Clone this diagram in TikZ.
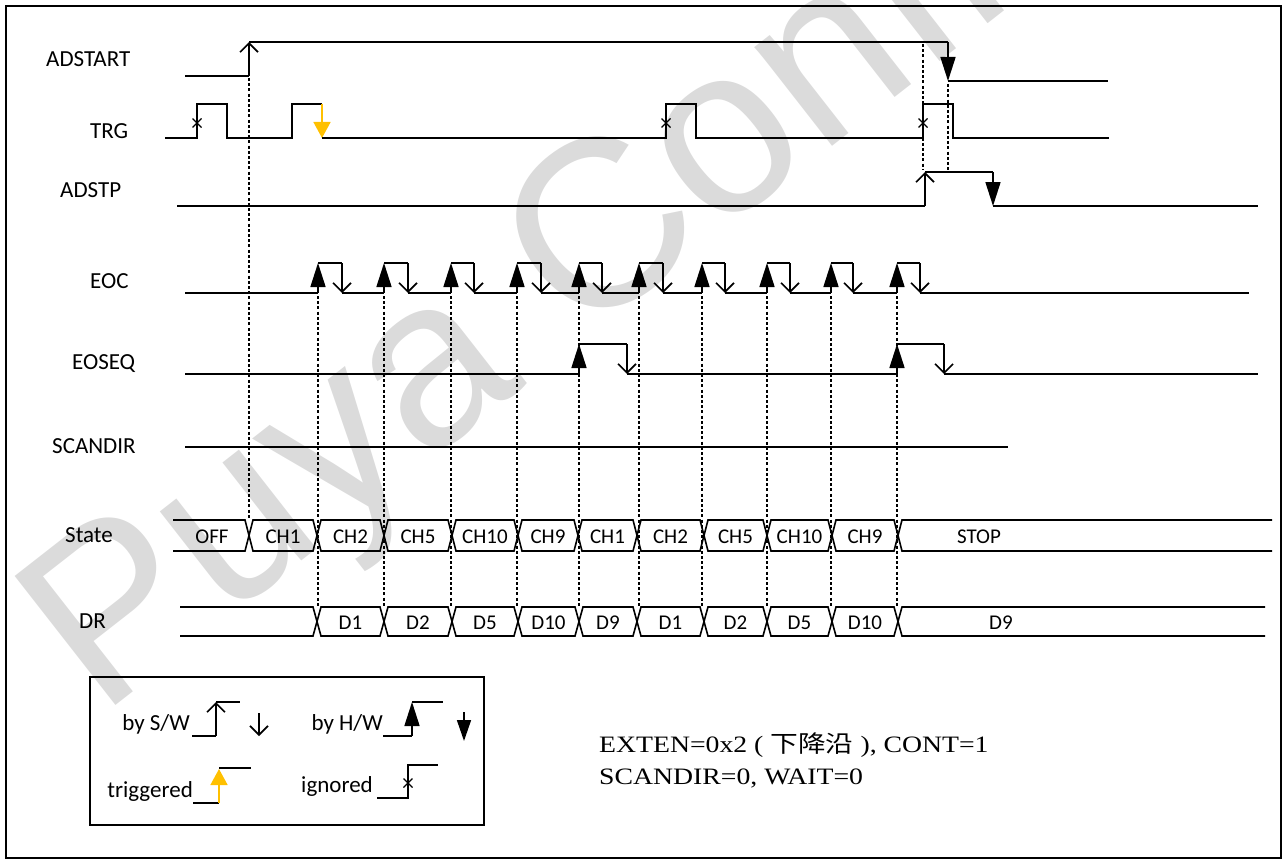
\documentclass[tikz,border=0pt]{standalone}
\usepackage{fontspec}
\setmainfont{Carlito}
\newfontfamily\serifcap{Liberation Serif}
\newfontfamily\cjkf{Noto Sans CJK SC}
\newfontfamily\wmfont{Liberation Sans}
\usetikzlibrary{arrows.meta}
\definecolor{trgy}{RGB}{255,192,0}
\newcommand\mymark[2]{\draw[xmk] (#1-4.5,#2-4.5)--(#1+4.5,#2+4.5) (#1-4.5,#2+4.5)--(#1+4.5,#2-4.5);}
\begin{document}
\begin{tikzpicture}[x=1pt,y=-1pt,
  sig/.style={line width=1.6pt, line join=miter},
  dsh/.style={line width=1.3pt, dash pattern=on 3pt off 2.2pt},
  hw/.style={-{Triangle[length=24pt,width=15pt]}},
  sw/.style={-{Straight Barb[length=9pt,width=18pt]}},
  ytip/.style={-{Triangle[length=16pt,width=17pt]}},
  lbl/.style={font=\fontsize{23}{26}\selectfont, inner sep=0pt},
  bus/.style={font=\fontsize{21}{24}\selectfont, inner sep=0pt},
  xmk/.style={line width=1.3pt}]
\useasboundingbox (0,0) rectangle (1288,864);
% watermark
\node[anchor=base west, rotate=38, inner sep=0pt, text=black!14,
  font=\wmfont\fontsize{238}{250}\selectfont] (wm) at (100,718) {Puya Confidential};
% frame
\draw[line width=1.3pt] (6,6) rectangle (1281,858);
% row labels
\node[lbl, anchor=west] (lADSTART) at (46,59) {ADSTART};
\node[lbl, anchor=west] (lTRG) at (90,131.5) {TRG};
\node[lbl, anchor=west] (lADSTP) at (60,190) {ADSTP};
\node[lbl, anchor=west] (lEOC) at (90,281) {EOC};
\node[lbl, anchor=west] (lEOSEQ) at (72,364) {EOSEQ};
\node[lbl, anchor=west] (lSCANDIR) at (52,446) {SCANDIR};
\node[lbl, anchor=west] (lState) at (65,535) {State};
\node[lbl, anchor=west] (lDR) at (79,621) {DR};
% dashed guides
\draw[dsh] (249,78) -- (249,518);
\draw[dsh] (923,44) -- (923,170);
\draw[dsh] (948,84) -- (948,170);
\foreach \r in {318,384,451,517,579,639,702,767,831,897}
  \draw[dsh] (\r,296) -- (\r,606);
% ADSTART
\draw[sig] (185,76) -- (249,76);
\draw[sig, sw] (249,76) -- (249,42);
\draw[sig] (249,42) -- (948,42);
\draw[sig, hw] (948,42) -- (948,81);
\draw[sig] (948,81) -- (1108,81);
% TRG
\draw[sig] (165,138) -- (197,138) -- (197,104) -- (227,104) -- (227,138) -- (292,138) -- (292,104) -- (322,104);
\draw[sig, trgy, ytip] (322,104) -- (322,138);
\draw[sig] (322,138) -- (666,138) -- (666,104) -- (696,104) -- (696,138) -- (923,138) -- (923,104) -- (953,104) -- (953,138) -- (1109,138);
\mymark{197}{123}
\mymark{666}{123}
\mymark{923}{123}
% ADSTP
\draw[sig] (177,206) -- (925,206);
\draw[sig, sw] (925,206) -- (925,172);
\draw[sig] (925,172) -- (993,172);
\draw[sig, hw] (993,172) -- (993,206);
\draw[sig] (993,206) -- (1258,206);
% EOC
\foreach \r/\f in {318/342,384/408,451/474,517/541,579/602,639/663,702/725,767/790,831/853,897/920}{
  \draw[sig, hw] (\r,293) -- (\r,263);
  \draw[sig] (\r,263) -- (\f,263);
  \draw[sig, sw] (\f,263) -- (\f,293);
}
\foreach \a/\b in {185/318,342/384,408/451,474/517,541/579,602/639,663/702,725/767,790/831,853/897,920/1249}
  \draw[sig] (\a,293) -- (\b,293);
% EOSEQ
\draw[sig] (185,374) -- (579,374);
\draw[sig, hw] (579,374) -- (579,344);
\draw[sig] (579,344) -- (627,344);
\draw[sig, sw] (627,344) -- (627,374);
\draw[sig] (627,374) -- (897,374);
\draw[sig, hw] (897,374) -- (897,344);
\draw[sig] (897,344) -- (944,344);
\draw[sig, sw] (944,344) -- (944,374);
\draw[sig] (944,374) -- (1258,374);
% SCANDIR
\draw[sig] (185,447) -- (1008,447);
% State bus
\draw[sig] (173,520) -- (245,520) -- (249,535.5) -- (245,551) -- (173,551);
\node[bus] (sOFF) at (212,537) {OFF};
\foreach \a/\b/\t in {249/317/CH1,317/384/CH2,384/452/CH5,452/518/CH10,518/578/CH9,578/637/CH1,637/704/CH2,704/767/CH5,767/832/CH10,832/898/CH9}{
  \draw[sig] (\a,535.5) -- (\a+4,520) -- (\b-4,520) -- (\b,535.5) -- (\b-4,551) -- (\a+4,551) -- cycle;
  \node[bus] (s\a) at ({(\a+\b)/2},537) {\t};
}
\draw[sig] (1272,520) -- (902,520) -- (898,535.5) -- (902,551) -- (1272,551);
\node[bus] (sSTOP) at (979,537) {STOP};
% DR bus
\draw[sig] (180,607) -- (313,607) -- (317,621.5) -- (313,636) -- (180,636);
\foreach \a/\b/\t in {317/384/D1,384/452/D2,452/518/D5,518/579/D10,579/637/D9,637/704/D1,704/767/D2,767/832/D5,832/898/D10}{
  \draw[sig] (\a,621.5) -- (\a+4,607) -- (\b-4,607) -- (\b,621.5) -- (\b-4,636) -- (\a+4,636) -- cycle;
  \node[bus] (d\a) at ({(\a+\b)/2},623) {\t};
}
\draw[sig] (1265,607) -- (902,607) -- (898,621.5) -- (902,636) -- (1265,636);
\node[bus] (dlast) at (1001,623) {D9};
% legend
\draw[line width=1.6pt] (90,677) rectangle (484,825);
\node[lbl, anchor=base east] (gsw) at (190,730) {by S/W};
\draw[sig] (192,736) -- (216,736);
\draw[sig, sw] (216,736) -- (216,702);
\draw[sig] (216,702) -- (240,702);
\draw[sig, sw] (259,713) -- (259,736);
\node[lbl, anchor=base east] (ghw) at (383,730) {by H/W};
\draw[sig] (383,736) -- (412,736);
\draw[sig, hw] (412,736) -- (412,702);
\draw[sig] (412,702) -- (443,702);
\draw[sig, -{Triangle[length=21pt,width=14pt]}] (464,712) -- (464,741);
\node[lbl, anchor=base east] (gtr) at (193,797) {triggered};
\draw[sig] (193,803) -- (219,803);
\draw[sig, trgy, ytip] (219,803) -- (219,769);
\draw[sig] (219,768) -- (251,768);
\node[lbl, anchor=base east] (gig) at (373,792) {ignored};
\draw[sig] (377,798) -- (408,798) -- (408,765) -- (438,765);
\mymark{408}{783}
% notes
\node[anchor=base west, inner sep=0pt] (n1) at (599,752) {\scalebox{1.18}[1]{\serifcap\fontsize{23.5}{26}\selectfont EXTEN=0x2 ( {\cjkf 下降沿} ), CONT=1}};
\node[anchor=base west, inner sep=0pt] (n2) at (599,784) {\scalebox{1.18}[1]{\serifcap\fontsize{23.5}{26}\selectfont SCANDIR=0, WAIT=0}};
\end{tikzpicture}
\end{document}
